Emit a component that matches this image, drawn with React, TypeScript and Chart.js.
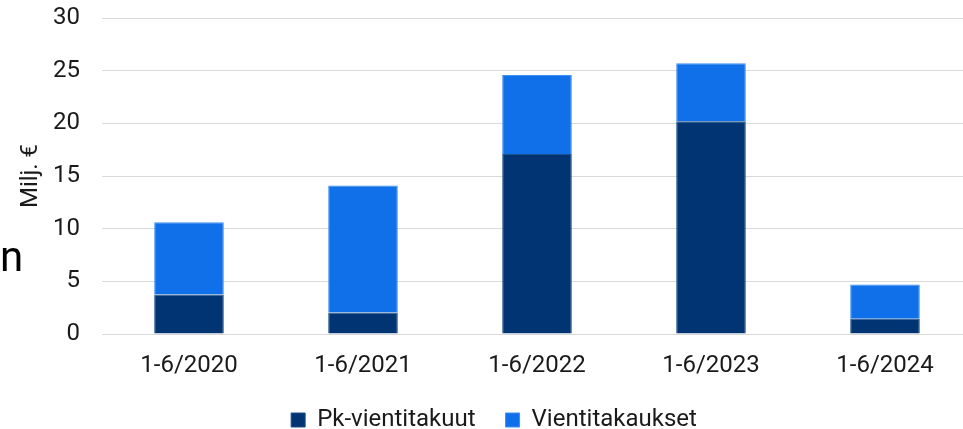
import React, { useEffect, useRef } from "react";
import { Chart, registerables } from "chart.js";

Chart.register(...registerables);

const categories = ["1-6/2020", "1-6/2021", "1-6/2022", "1-6/2023", "1-6/2024"];
const pkVientitakuut = [3.75, 2.05, 17.1, 20.2, 1.45];
const vientitakaukset = [6.85, 12.05, 7.5, 5.5, 3.25];
const seriesNames = ["Pk-vientitakuut", "Vientitakaukset"];
const yTitle = "Milj. €";

const FONT = "Roboto, 'Noto Sans', sans-serif";

export default function App() {
  const ref = useRef<HTMLCanvasElement | null>(null);

  useEffect(() => {
    if (!ref.current) return;
    const chart = new Chart(ref.current, {
      type: "bar",
      data: {
        labels: categories,
        datasets: [
          {
            label: seriesNames[0],
            data: pkVientitakuut,
            backgroundColor: "#003473",
            borderColor: "#1f4f8c",
            borderWidth: 1,
            barPercentage: 0.4,
            categoryPercentage: 1,
          },
          {
            label: seriesNames[1],
            data: vientitakaukset,
            backgroundColor: "#1070EA",
            borderColor: "#3f8ef2",
            borderWidth: 1,
            barPercentage: 0.4,
            categoryPercentage: 1,
          },
        ],
      },
      options: {
        animation: false,
        responsive: false,
        layout: { padding: { left: 16, right: 8, top: 18, bottom: 0 } },
        plugins: {
          tooltip: { enabled: false },
          legend: {
            position: "bottom",
            labels: {
              boxWidth: 14,
              boxHeight: 14,
              padding: 30,
              color: "#1a1a1a",
              font: { family: FONT, size: 24 },
            },
          },
        },
        scales: {
          x: {
            stacked: true,
            grid: { display: false, drawTicks: false },
            border: { display: false },
            ticks: { color: "#1a1a1a", padding: 18, font: { family: FONT, size: 24 } },
            afterFit: (s: any) => {
              s.height = 44;
            },
          },
          y: {
            stacked: true,
            min: 0,
            max: 30,
            ticks: { stepSize: 5, color: "#1a1a1a", padding: 22, font: { family: FONT, size: 24 } },
            grid: { color: "#d9d9d9", lineWidth: 1, drawTicks: false },
            border: { display: false },
            title: {
              display: true,
              text: yTitle,
              color: "#1a1a1a",
              font: { family: FONT, size: 24 },
              padding: { top: 1, bottom: 0 },
            },
            afterFit: (s: any) => {
              s.width = 86;
              s.paddingTop = 0;
              s.paddingBottom = 0;
            },
          },
        },
      },
    });
    return () => chart.destroy();
  }, []);

  return (
    <div
      style={{
        position: "fixed",
        left: 0,
        top: 0,
        width: 963,
        height: 429,
        overflow: "hidden",
        background: "#fff",
      }}
    >
      <canvas ref={ref} width={980} height={442} style={{ width: 980, height: 442, display: "block" }} />
      <span
        style={{
          position: "absolute",
          left: 0,
          top: 236,
          fontFamily: FONT,
          fontSize: 42,
          lineHeight: "42px",
          color: "#000",
        }}
      >
        n
      </span>
    </div>
  );
}
